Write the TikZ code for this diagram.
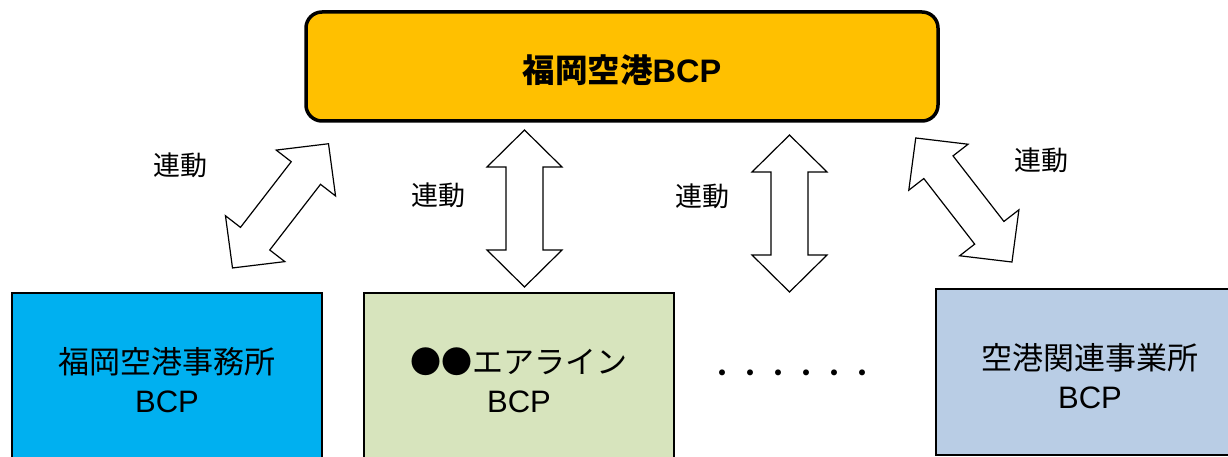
\documentclass[tikz,border=0pt]{standalone}
\usepackage{fontspec}
\setmainfont{Liberation Sans}
\newfontfamily\jp{Noto Sans CJK JP}
\definecolor{topfill}{HTML}{FFC000}
\definecolor{fillA}{HTML}{00B0F0}
\definecolor{fillB}{HTML}{D7E4BD}
\definecolor{fillC}{HTML}{B9CDE5}
\tikzset{
  boxstyle/.style={draw=black, line width=2pt, rectangle, inner sep=0pt},
  maintext/.style={font=\fontsize{31}{39}\selectfont, align=center, inner sep=0pt},
  linktext/.style={font=\jp\fontsize{27}{30}\selectfont, inner sep=0pt},
  arrowline/.style={draw=black, line width=1.2pt, fill=white, line join=miter},
  dblarrow/.pic={
    \path[arrowline] (0,-78.5) -- (37.5,-41.5) -- (18.5,-41.5) -- (18.5,41.5)
      -- (37.5,41.5) -- (0,78.5) -- (-37.5,41.5) -- (-18.5,41.5)
      -- (-18.5,-41.5) -- (-37.5,-41.5) -- cycle;
  }
}
\begin{document}
\begin{tikzpicture}[x=1pt,y=-1pt]
\useasboundingbox (0,0) rectangle (1228,457);
\clip (0,0) rectangle (1228,457);
% top box
\node[boxstyle, rounded corners=16pt, line width=3.5pt, fill=topfill,
      minimum width=632pt, minimum height=109pt] (top) at (622,66.5) {};
\node[maintext, font=\bfseries\fontsize{32.5}{39}\selectfont] (toptext) at (622,70) {{\jp 福岡空港}BCP};
% bottom boxes
\node[boxstyle, fill=fillA, minimum width=310pt, minimum height=174pt] (b1) at (167,380) {};
\node[boxstyle, fill=fillB, minimum width=310pt, minimum height=174pt] (b2) at (519,380) {};
\node[boxstyle, fill=fillC, minimum width=309pt, minimum height=166pt] (b3) at (1090.5,372) {};
\node[maintext] (t1) at (167,380) {{\jp 福岡空港事務所}\\BCP};
\node[maintext] (t2) at (519,380) {{\jp ●●エアライン}\\BCP};
\node[maintext] (t3) at (1090,376) {{\jp 空港関連事業所}\\BCP};
\node[inner sep=0pt, font=\jp\fontsize{28}{30}\selectfont] (dots) at (792,377) {・・・・・・};
% block arrows
\pic[rotate=-37.7] at (280.5,205.85) {dblarrow};
\pic at (524.5,208.5) {dblarrow};
\pic at (789.5,213.5) {dblarrow};
\pic[rotate=37.8] at (963.85,200) {dblarrow};
% labels
\node[linktext] (l1) at (180,165) {連動};
\node[linktext] (l2) at (438,195) {連動};
\node[linktext] (l3) at (702,196) {連動};
\node[linktext] (l4) at (1041,160) {連動};
\end{tikzpicture}
\end{document}
